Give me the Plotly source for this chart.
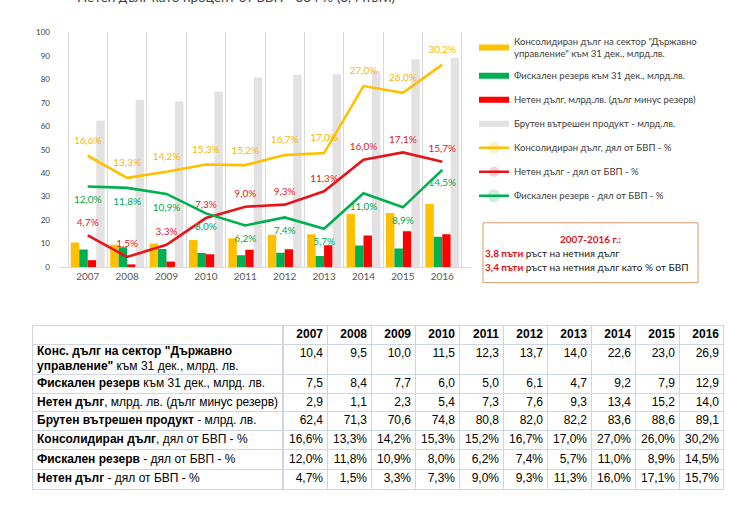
import plotly.graph_objects as go

years = ["2007", "2008", "2009", "2010", "2011", "2012", "2013", "2014", "2015", "2016"]
cons_debt = [10.4, 9.5, 10.0, 11.5, 12.3, 13.7, 14.0, 22.6, 23.0, 26.9]
fiscal_res = [7.5, 8.4, 7.7, 6.0, 5.0, 6.1, 4.7, 9.2, 7.9, 12.9]
net_debt = [2.9, 1.1, 2.3, 5.4, 7.3, 7.6, 9.3, 13.4, 15.2, 14.0]
gdp = [62.4, 71.3, 70.6, 74.8, 80.8, 82.0, 82.2, 83.6, 88.6, 89.1]
cons_pct = [16.6, 13.3, 14.2, 15.3, 15.2, 16.7, 17.0, 27.0, 26.0, 30.2]
fiscal_pct = [12.0, 11.8, 10.9, 8.0, 6.2, 7.4, 5.7, 11.0, 8.9, 14.5]
net_pct = [4.7, 1.5, 3.3, 7.3, 9.0, 9.3, 11.3, 16.0, 17.1, 15.7]

legend_names = [
    "Консолидиран дълг на сектор \"Държавно<br>управление\" към 31 дек., млрд.лв.",
    "Фискален резерв към 31 дек., млрд.лв.",
    "Нетен дълг, млрд.лв. (дълг минус резерв)",
    "Брутен вътрешен продукт - млрд.лв.",
    "Консолидиран дълг, дял от БВП - %",
    "Нетен дълг - дял от БВП - %",
    "Фискален резерв - дял от БВП - %",
]

row_labels = [
    "<b>Конс. дълг на сектор \"Държавно</b><br><b>управление\"</b> към 31 дек., млрд. лв.",
    "<b>Фискален резерв</b> към 31 дек., млрд. лв.",
    "<b>Нетен дълг</b>, млрд. лв. (дълг минус резерв)",
    "<b>Брутен вътрешен продукт</b> - млрд. лв.",
    "<b>Консолидиран дълг</b>, дял от БВП - %",
    "<b>Фискален резерв</b> - дял от БВП - %",
    "<b>Нетен дълг</b> - дял от БВП - %",
]

YELLOW = "#FFC000"
GREEN = "#00B050"
RED = "#FF0000"
GRAY = "#E3E1E1"
LINE_RED = "#E8141B"
BORDER = "#CED6E6"

W, H = 744, 531


def fmt(v, pct=False):
    s = f"{v:.1f}".replace(".", ",")
    return s + "%" if pct else s


fig = go.Figure()

# ---------------- chart ----------------
bar_specs = [(cons_debt, YELLOW), (fiscal_res, GREEN), (net_debt, RED), (gdp, GRAY)]
for vals, col in bar_specs:
    fig.add_trace(go.Bar(x=years, y=vals, marker_color=col, marker_line_width=0,
                         showlegend=False, hoverinfo="skip"))

# legend-only swatches for the bar series (wide rectangles)
for i, (vals, col) in enumerate(bar_specs):
    fig.add_trace(go.Scatter(x=[None], y=[None], mode="lines", line=dict(color=col, width=6),
                             name=legend_names[i], legendgroup=f"g{i}", legendrank=i + 1))

line_specs = [
    (cons_pct, YELLOW, "#F6B800", "top center", legend_names[4], 5, 13),
    (net_pct, LINE_RED, "#E31A1C", "top center", legend_names[5], 6, 10),
    (fiscal_pct, GREEN, "#00A84A", "bottom center", legend_names[6], 7, 13),
]
for vals, col, tcol, tpos, name, rank, msize in line_specs:
    fig.add_trace(go.Scatter(
        x=years, y=vals, yaxis="y2", mode="lines+markers+text",
        line=dict(color=col, width=2.6),
        marker=dict(size=msize, opacity=0, color=col),
        text=[fmt(v, True) for v in vals], textposition=tpos,
        textfont=dict(family="Lato", size=10, color=tcol),
        name=name, legendgroup=f"g{rank}", legendrank=rank, hoverinfo="skip",
        cliponaxis=False,
    ))

# ---------------- table (own subplot) ----------------
ROW_H = [19, 31, 19, 18.5, 19, 19.5, 20.5, 20]
TABLE_TOP = 327
tops = [sum(ROW_H[:k]) for k in range(len(ROW_H))]
total = sum(ROW_H)
centers = [t + h / 2 for t, h in zip(tops, ROW_H)]
LBL_COL = (33, 283)
NUM_COL = (283, 723)
col_w = (NUM_COL[1] - NUM_COL[0]) / len(years)
num_x = [i + 0.5 - 4 / col_w for i in range(len(years))]
TFONT = dict(family="Liberation Sans", size=12, color="black")

fig.add_trace(go.Scatter(
    x=[4 / (LBL_COL[1] - LBL_COL[0])] * len(row_labels), y=centers[1:],
    text=row_labels, mode="text", textposition="middle right", textfont=TFONT,
    xaxis="x3", yaxis="y3", showlegend=False, hoverinfo="skip", cliponaxis=False))

fig.add_trace(go.Scatter(
    x=num_x, y=[centers[0]] * len(years), text=[f"<b>{y}</b>" for y in years],
    mode="text", textposition="middle left", textfont=TFONT,
    xaxis="x4", yaxis="y3", showlegend=False, hoverinfo="skip", cliponaxis=False))

table_rows = [
    ([fmt(v) for v in cons_debt], tops[1] + 10),
    ([fmt(v) for v in fiscal_res], centers[2]),
    ([fmt(v) for v in net_debt], centers[3]),
    ([fmt(v) for v in gdp], centers[4]),
    ([fmt(v, True) for v in cons_pct], centers[5]),
    ([fmt(v, True) for v in fiscal_pct], centers[6]),
    ([fmt(v, True) for v in net_pct], centers[7]),
]
for texts, ypos in table_rows:
    fig.add_trace(go.Scatter(
        x=num_x, y=[ypos] * len(texts), text=texts, mode="text",
        textposition="middle left", textfont=TFONT,
        xaxis="x4", yaxis="y3", showlegend=False, hoverinfo="skip", cliponaxis=False))

x0, x1 = 59 / W, 471 / W
fig.update_layout(
    width=W, height=H,
    margin=dict(l=0, r=0, t=0, b=0),
    paper_bgcolor="white", plot_bgcolor="white",
    hovermode=False,
    barmode="group", bargap=0.14, bargroupgap=0,
    font=dict(family="Lato", color="#404040"),
    xaxis=dict(domain=[x0, x1], type="category", tickson="boundaries",
               showgrid=True, gridcolor="#D9D9D9", gridwidth=1,
               showline=True, linecolor="#D9D9D9", linewidth=1,
               ticks="", tickfont=dict(family="Lato", size=10, color="#595959"),
               fixedrange=True),
    yaxis=dict(domain=[1 - 267 / H, 1 - 28 / H], range=[0, 100], dtick=10,
               showgrid=False, zeroline=False, showline=False, ticks="",
               ticklabelstandoff=8,
               tickfont=dict(family="Lato", size=8, color="#404040"), fixedrange=True),
    yaxis2=dict(overlaying="y", range=[0, 35], visible=False, fixedrange=True),
    xaxis3=dict(domain=[LBL_COL[0] / W, LBL_COL[1] / W], range=[0, 1], anchor="y3",
                showline=True, mirror=True, linecolor=BORDER, linewidth=1,
                showgrid=False, zeroline=False, showticklabels=False, ticks="",
                fixedrange=True),
    xaxis4=dict(domain=[NUM_COL[0] / W, NUM_COL[1] / W], range=[-0.5, len(years) - 0.5],
                anchor="y3", showline=True, mirror=True, linecolor=BORDER, linewidth=1,
                tickmode="array", tickvals=[i + 0.5 for i in range(len(years) - 1)],
                showgrid=True, gridcolor=BORDER, gridwidth=1,
                zeroline=False, showticklabels=False, ticks="", fixedrange=True),
    yaxis3=dict(domain=[1 - (TABLE_TOP + total) / H, 1 - TABLE_TOP / H],
                range=[total, 0], anchor="x3",
                showline=True, mirror="all", linecolor=BORDER, linewidth=1,
                tickmode="array", tickvals=tops[1:],
                showgrid=True, gridcolor=BORDER, gridwidth=1,
                zeroline=False, showticklabels=False, ticks="", fixedrange=True),
    showlegend=True,
    legend=dict(x=474 / W, xanchor="left", y=1 - 24 / H, yanchor="top",
                font=dict(family="Lato", size=9.5, color="#404040"),
                traceorder="grouped", tracegroupgap=5, itemwidth=30,
                bgcolor="rgba(0,0,0,0)"),
)

# partially visible title at very top
fig.add_annotation(xref="paper", yref="paper", x=236 / W, y=1 - 2 / H,
                   xanchor="center", yanchor="bottom", showarrow=False,
                   text="Нетен дълг като процент от БВП - 334 % (3,4 пъти)",
                   font=dict(family="Lato", size=13.5, color="#404040"))

# text box
fig.add_shape(type="rect", xref="paper", yref="paper",
              x0=483 / W, x1=698 / W, y0=1 - 283 / H, y1=1 - 222 / H,
              line=dict(color="#DE9C63", width=1), fillcolor="white", layer="above")
fig.add_annotation(xref="paper", yref="paper", x=590.5 / W, y=1 - 239 / H,
                   xanchor="center", yanchor="middle", showarrow=False,
                   text="<b>2007-2016 г.:</b>",
                   font=dict(family="Lato", size=10, color="#E0101A"))
fig.add_annotation(xref="paper", yref="paper", x=483 / W, y=1 - 253 / H,
                   xanchor="left", yanchor="middle", showarrow=False,
                   text="<b><span style='color:#E0101A'>3,8 пъти</span></b> ръст на нетния дълг",
                   font=dict(family="Lato", size=10, color="#1a1a1a"))
fig.add_annotation(xref="paper", yref="paper", x=483 / W, y=1 - 267 / H,
                   xanchor="left", yanchor="middle", showarrow=False,
                   text="<b><span style='color:#E0101A'>3,4 пъти</span></b> ръст на нетния дълг като % от БВП",
                   font=dict(family="Lato", size=10, color="#1a1a1a"))

fig.write_html("out.html", config={"displayModeBar": False},
               post_script="document.body.style.margin='0';")
